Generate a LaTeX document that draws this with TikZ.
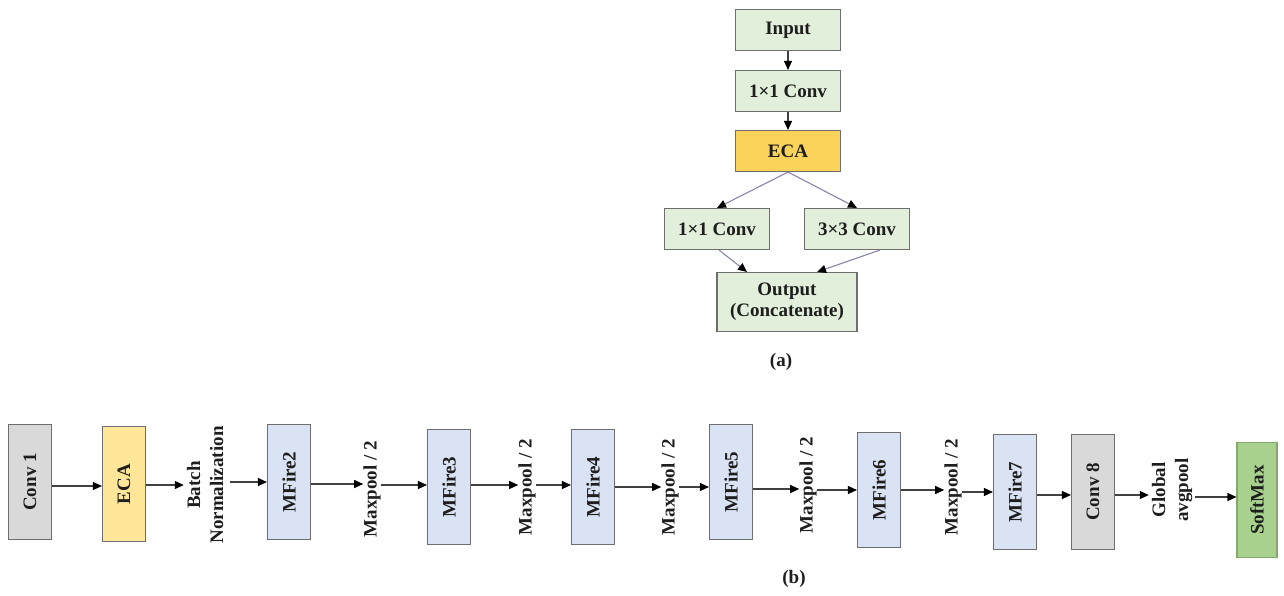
\documentclass[tikz,border=0pt]{standalone}
\usepackage{fontspec}
\setmainfont{Liberation Serif}
\usetikzlibrary{arrows.meta}
\definecolor{tgreen}{HTML}{E2EFDA}
\definecolor{ecatop}{HTML}{FBD35A}
\definecolor{ecabot}{HTML}{FFE699}
\definecolor{gconv}{HTML}{D9D9D9}
\definecolor{mblue}{HTML}{DAE3F3}
\definecolor{sgreen}{HTML}{A9D18E}
\definecolor{boxline}{HTML}{6E6E6E}
\definecolor{arrline}{HTML}{404040}
\definecolor{purp}{HTML}{8A84AA}
\definecolor{textc}{HTML}{1E1E1E}
\begin{document}
\begin{tikzpicture}[x=1pt,y=-1pt,
  font=\fontsize{19}{23}\selectfont\bfseries,
  box/.style={draw=boxline, line width=1.1pt, inner sep=0pt, text=textc},
  tbox/.style={box, fill=tgreen, minimum width=105pt, minimum height=41pt},
  vbox/.style={box, minimum width=43pt, minimum height=115pt},
  lbl/.style={inner sep=0pt, text=textc},
  arr/.style={-{Triangle[length=9pt,width=8pt,color=black]}, line width=1.1pt, draw=arrline},
  parr/.style={arr, draw=purp},
]
\useasboundingbox (0,0) rectangle (1284,595);
% (a)
\node[tbox] (in) at (788,30) {Input};
\node[tbox] (c11) at (788,91) {1×1 Conv};
\node[tbox, fill=ecatop] (ecat) at (788,151) {ECA};
\node[tbox] (b1) at (717,229) {1×1 Conv};
\node[tbox] (b3) at (857,229) {3×3 Conv};
\node[box, fill=tgreen, minimum width=140pt, minimum height=59pt, align=center] (out) at (787,302) {Output\\[-2pt](Concatenate)};
\node[lbl] (capa) at (781,362) {(a)};
\draw[arr] (in) -- (c11);
\draw[arr] (c11) -- (ecat);
\draw[parr] (ecat.south) -- (b1.north);
\draw[parr] (ecat.south) -- (b3.north);
\draw[parr] ([xshift=2pt]b1.south) -- ([xshift=-40pt]out.north);
\draw[parr] ([xshift=23pt]b3.south) -- ([xshift=30pt]out.north);
% (b)
\node[vbox, fill=gconv] (conv1) at (30,482) {\rotatebox{90}{Conv 1}};
\node[vbox, fill=ecabot] (ecab) at (124,484) {\rotatebox{90}{ECA}};
\node[lbl] (bn) at (207,485) {\rotatebox{90}{\begin{tabular}{@{}c@{}}Batch\\Normalization\end{tabular}}};
\node[vbox, fill=mblue] (mf2) at (289,482) {\rotatebox{90}{MFire2}};
\node[lbl] (mp1) at (372,489) {\rotatebox{90}{Maxpool / 2}};
\node[vbox, fill=mblue] (mf3) at (449,487) {\rotatebox{90}{MFire3}};
\node[lbl] (mp2) at (527,487) {\rotatebox{90}{Maxpool / 2}};
\node[vbox, fill=mblue] (mf4) at (593,487) {\rotatebox{90}{MFire4}};
\node[lbl] (mp3) at (670,487) {\rotatebox{90}{Maxpool / 2}};
\node[vbox, fill=mblue] (mf5) at (731,482) {\rotatebox{90}{MFire5}};
\node[lbl] (mp4) at (808,485) {\rotatebox{90}{Maxpool / 2}};
\node[vbox, fill=mblue] (mf6) at (879,490) {\rotatebox{90}{MFire6}};
\node[lbl] (mp5) at (953,487) {\rotatebox{90}{Maxpool / 2}};
\node[vbox, fill=mblue] (mf7) at (1015,492) {\rotatebox{90}{MFire7}};
\node[vbox, fill=gconv] (conv8) at (1093,492) {\rotatebox{90}{Conv 8}};
\node[lbl] (gap) at (1172,490) {\rotatebox{90}{\begin{tabular}{@{}c@{}}Global\\avgpool\end{tabular}}};
\node[vbox, fill=sgreen, draw=sgreen!80!black, minimum width=40pt] (soft) at (1257,500) {\rotatebox{90}{SoftMax}};
\node[lbl] (capb) at (794,579) {(b)};
\draw[arr] ([yshift=-4pt]conv1.east) -- ([yshift=-4pt]conv1.east -| ecab.west);
\draw[arr] ([yshift=-1pt]ecab.east) -- ([yshift=-1pt]ecab.east -| bn.west);
\draw[arr] ([yshift=3pt]bn.east) -- ([yshift=3pt]bn.east -| mf2.west);
\draw[arr] ([yshift=-2pt]mf2.east) -- ([yshift=-2pt]mf2.east -| mp1.west);
\draw[arr] ([yshift=4pt]mp1.east) -- ([yshift=4pt]mp1.east -| mf3.west);
\draw[arr] ([yshift=2pt]mf3.east) -- ([yshift=2pt]mf3.east -| mp2.west);
\draw[arr] ([yshift=2pt]mp2.east) -- ([yshift=2pt]mp2.east -| mf4.west);
\draw[arr] (mf4.east) -- (mf4.east -| mp3.west);
\draw[arr] (mp3.east) -- (mp3.east -| mf5.west);
\draw[arr] ([yshift=-7pt]mf5.east) -- ([yshift=-7pt]mf5.east -| mp4.west);
\draw[arr] ([yshift=-5pt]mp4.east) -- ([yshift=-5pt]mp4.east -| mf6.west);
\draw[arr] (mf6.east) -- (mf6.east -| mp5.west);
\draw[arr] ([yshift=-5pt]mp5.east) -- ([yshift=-5pt]mp5.east -| mf7.west);
\draw[arr] ([yshift=-3pt]mf7.east) -- ([yshift=-3pt]mf7.east -| conv8.west);
\draw[arr] ([yshift=-3pt]conv8.east) -- ([yshift=-3pt]conv8.east -| gap.west);
\draw[arr] ([yshift=-7pt]gap.east) -- ([yshift=-7pt]gap.east -| soft.west);
\end{tikzpicture}
\end{document}
